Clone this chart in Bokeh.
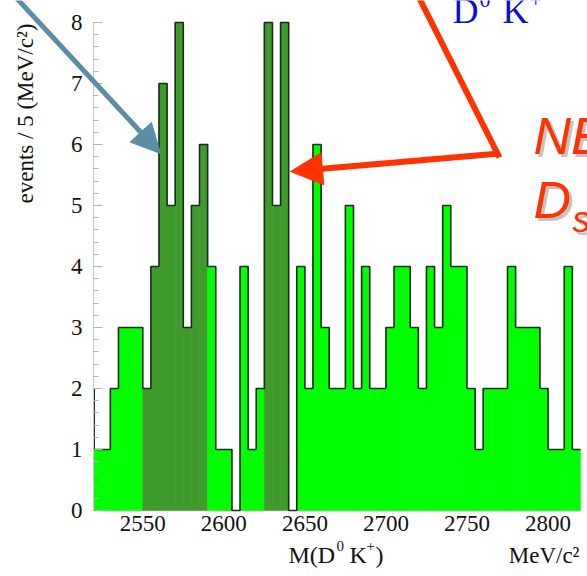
import math
from bokeh.plotting import figure
from bokeh.models import Range1d, FixedTicker, SingleIntervalTicker, Label, Arrow, NormalHead
from bokeh.embed import file_html
from bokeh.resources import INLINE

# ---- data: events per 5 MeV/c^2 bin, M(D0 K+) ----
bin_width = 5
bin_left = [2515, 2520, 2525, 2530, 2535, 2540, 2545, 2550, 2555, 2560,
            2565, 2570, 2575, 2580, 2585, 2590, 2595, 2600, 2605, 2610,
            2615, 2620, 2625, 2630, 2635, 2640, 2645, 2650, 2655, 2660,
            2665, 2670, 2675, 2680, 2685, 2690, 2695, 2700, 2705, 2710,
            2715, 2720, 2725, 2730, 2735, 2740, 2745, 2750, 2755, 2760,
            2765, 2770, 2775, 2780, 2785, 2790, 2795, 2800, 2805, 2810, 2815]
counts = [2, 1, 1, 2, 3, 3, 3, 2, 4, 7,
          5, 8, 3, 5, 6, 4, 1, 1, 0, 4,
          1, 2, 8, 5, 8, 0, 4, 2, 6, 3,
          2, 2, 5, 2, 4, 2, 2, 3, 4, 4,
          3, 2, 4, 3, 5, 4, 4, 2, 1, 2,
          2, 2, 4, 3, 3, 3, 2, 1, 1, 4, 1]
signal_windows = [(2550, 2590), (2625, 2640)]
x_ticks = [2550, 2600, 2650, 2700, 2750, 2800]
y_label = "events / 5 (MeV/c²)"
x_lo = 2519.6          # lower edge of the drawn mass range
y_hi = 8               # top of the y axis

LIGHT = "#00ff00"
DARK = "#3f9b2b"
EDGE = "#1c2c1c"
RED = "#ff3300"
BLUE_ARROW = "#5a8ea6"
BLUE_TXT = "#0d0dd9"
SERIF = "Liberation Serif, Times New Roman, serif"
SANS = "Liberation Sans, Arial, sans-serif"

W, H = 587, 576
AX_X, AX_Y = 93, 510      # canvas px of the axes' origin
KX, KY = 1.621, 61.0      # px per MeV, px per event
MID = 0.34                # baseline -> em-box middle, in em

def X(cx):
    return x_lo + (cx - AX_X) / KX

def Y(cy):
    return (AX_Y - cy) / KY

p = figure(width=W, height=H,
           x_range=Range1d(X(0), X(W)), y_range=Range1d(Y(H), Y(0)),
           output_backend="svg", toolbar_location=None, min_border=0)
p.outline_line_color = None
p.grid.visible = False
p.background_fill_color = "white"
p.border_fill_color = "white"

in_sig = lambda x: any(a <= x < b for a, b in signal_windows)
colors = [DARK if in_sig(x) else LIGHT for x in bin_left]
lefts = [max(x, x_lo) for x in bin_left]
rights = [x + bin_width for x in bin_left]
p.quad(left=lefts, right=rights, bottom=0, top=counts,
       fill_color=colors, line_color=colors, line_width=0.6)

step_x = lefts + [rights[-1]]
step_y = counts + [counts[-1]]
p.step(x=step_x, y=step_y, mode="after", line_color=EDGE, line_width=1.6)

# axes, pinned at the histogram's origin
p.xaxis.fixed_location = 0
p.xaxis.bounds = (x_lo, rights[-1])
p.xaxis.ticker = FixedTicker(ticks=x_ticks)
p.xaxis.axis_line_color = None
p.xaxis.major_tick_line_color = None
p.xaxis.minor_tick_line_color = None
p.xaxis.major_tick_in = 0
p.xaxis.major_tick_out = 0
p.xaxis.major_label_text_font = SERIF
p.xaxis.major_label_text_font_size = "23px"
p.xaxis.major_label_text_color = "#111111"
p.xaxis.major_label_standoff = 5

p.yaxis.fixed_location = x_lo
p.yaxis.bounds = (0, y_hi)
p.yaxis.ticker = SingleIntervalTicker(interval=1, num_minor_ticks=5)
p.yaxis.axis_line_color = "#c8c8c8"
p.yaxis.major_tick_line_color = "#b4b4b4"
p.yaxis.minor_tick_line_color = "#b4b4b4"
p.yaxis.major_tick_in = 9
p.yaxis.major_tick_out = 0
p.yaxis.minor_tick_in = 5
p.yaxis.minor_tick_out = 0
p.yaxis.major_label_text_font = SERIF
p.yaxis.major_label_text_font_size = "23px"
p.yaxis.major_label_text_color = "#111111"
p.yaxis.major_label_standoff = 11

def lab(text, cx, cy, size, color="#111111", font=SERIF, style="normal",
        align="left", vertical=False):
    """cx, cy: canvas px of the text's anchor on its baseline."""
    if vertical:
        x, y, angle = X(cx - MID * size), Y(cy), math.pi / 2
    else:
        x, y, angle = X(cx), Y(cy - MID * size), 0.0
    p.add_layout(Label(x=x, y=y, text=text, text_font=font,
                       text_font_size=f"{size}px", text_font_style=style,
                       text_color=color, text_align=align,
                       text_baseline="middle", angle=angle))

def arrow(x0, y0, x1, y1, color, width, head=None):
    end = None if head is None else NormalHead(size=head, fill_color=color,
                                               line_color=color)
    p.add_layout(Arrow(x_start=X(x0), y_start=Y(y0), x_end=X(x1), y_end=Y(y1),
                       line_color=color, line_width=width, end=end))

# axis titles
lab(y_label, 33, 23, 23, align="right", vertical=True)
lab("M(D", 288, 563, 24)
lab("0", 336, 551, 15)
lab("K", 349, 563, 24)
lab("+", 366, 551, 15)
lab(")", 375, 563, 24)
lab("MeV/c²", 579, 563, 23, align="right")

# arrows
arrow(9, -10, 160, 153, BLUE_ARROW, 5, head=29)
arrow(418, -4, 499, 157, RED, 6)
arrow(499, 153, 290, 171, RED, 6, head=32)

# annotation texts
lab("D", 452, 23, 36, color=BLUE_TXT)
lab("0", 479, 7, 22, color=BLUE_TXT)
lab("K", 502, 23, 36, color=BLUE_TXT)
lab("+", 529, 7, 22, color=BLUE_TXT)

for dx, dy, col in [(3, 3, "#c4c4c4"), (0, 0, RED)]:
    lab("NE", 533 + dx, 153 + dy, 52, color=col, font=SANS, style="italic")
    lab("D", 533 + dx, 217 + dy, 52, color=col, font=SANS, style="italic")
    lab("s", 572 + dx, 231 + dy, 36, color=col, font=SANS, style="italic")

open("out.html", "w").write(file_html(p, INLINE))
